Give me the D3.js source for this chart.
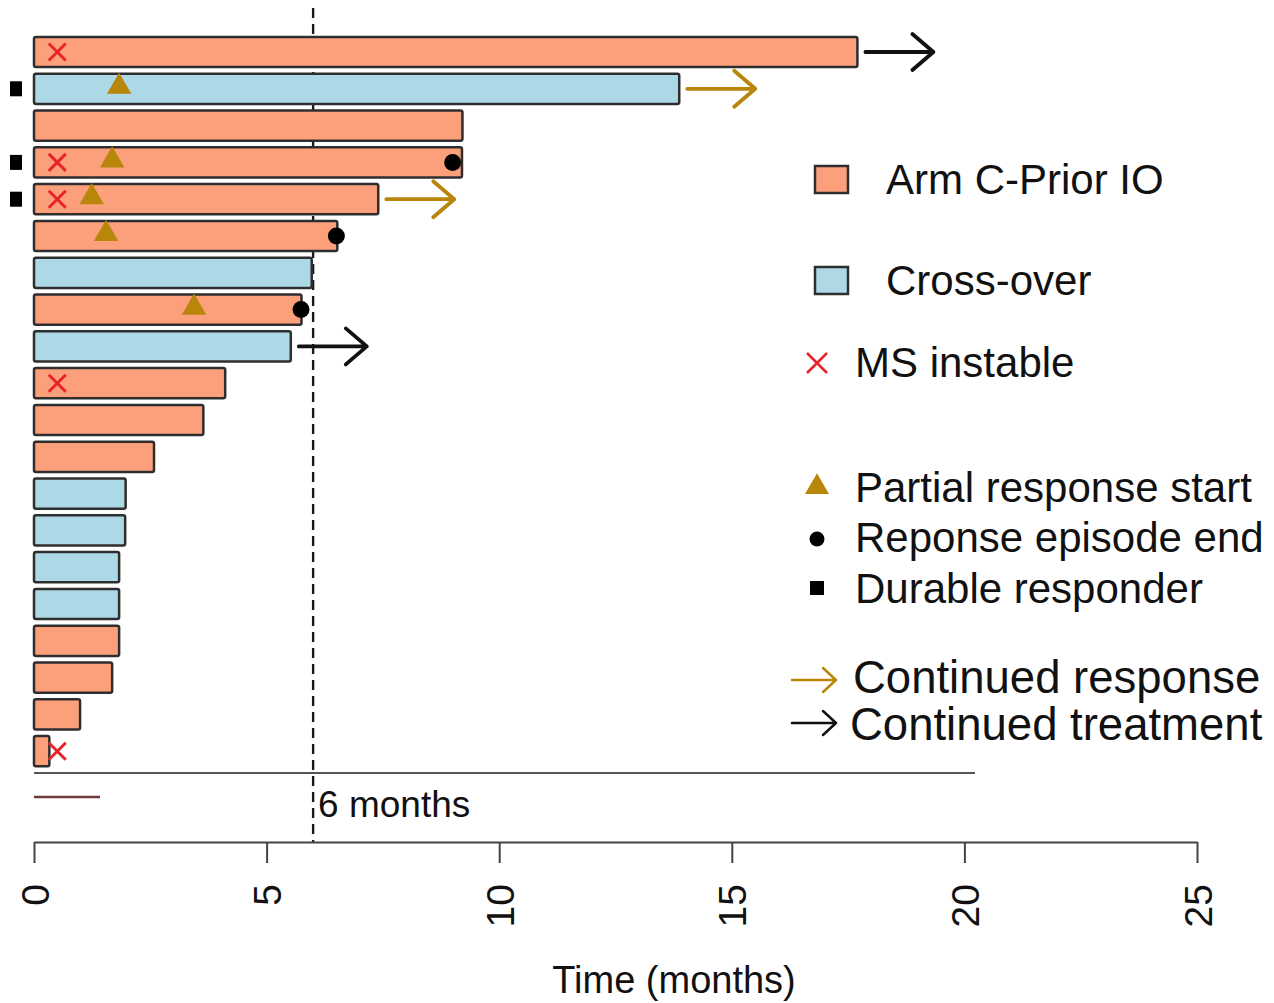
<!DOCTYPE html>
<html>
<head>
<meta charset="utf-8">
<script src="https://cdn.jsdelivr.net/npm/d3@7"></script>
<style>
  body { margin: 0; background: #fff; }
  svg { display: block; }
  text { font-family: "Liberation Sans", Arial, Helvetica, sans-serif; fill: #111; }
</style>
</head>
<body>
<svg id="chart" width="1274" height="1003"></svg>
<script>
// ---- data: one entry per patient, longest time on treatment first ----
const patients = d3.range(1, 21).map(i => "P" + String(i).padStart(2, "0"));
const arms = ["Arm C-Prior IO", "Cross-over", "Arm C-Prior IO", "Arm C-Prior IO", "Arm C-Prior IO",
              "Arm C-Prior IO", "Cross-over", "Arm C-Prior IO", "Cross-over", "Arm C-Prior IO",
              "Arm C-Prior IO", "Arm C-Prior IO", "Cross-over", "Cross-over", "Cross-over",
              "Cross-over", "Arm C-Prior IO", "Arm C-Prior IO", "Arm C-Prior IO", "Arm C-Prior IO"];
const months = [17.7, 13.87, 9.21, 9.2, 7.4, 6.52, 5.97, 5.75, 5.52, 4.11,
                3.64, 2.58, 1.97, 1.96, 1.83, 1.83, 1.83, 1.68, 0.99, 0.33];
const msInstable = [0.5, null, null, 0.5, 0.5, null, null, null, null, 0.5,
                    null, null, null, null, null, null, null, null, null, 0.5];
const partialResponseStart = [null, 1.83, null, 1.68, 1.24, 1.55, null, 3.44, null, null,
                              null, null, null, null, null, null, null, null, null, null];
const responseEnd = [null, null, null, 9.0, null, 6.5, null, 5.74, null, null,
                     null, null, null, null, null, null, null, null, null, null];
const durableResponder = [false, true, false, true, true, false, false, false, false, false,
                          false, false, false, false, false, false, false, false, false, false];
const continued = ["treatment", "response", null, null, "response", null, null, null, "treatment", null,
                   null, null, null, null, null, null, null, null, null, null];
const xTicks = [0, 5, 10, 15, 20, 25];
const cutoffMonths = 6;
const cutoffLabel = "6 months";
const xTitle = "Time (months)";
const legendArms = ["Arm C-Prior IO", "Cross-over"];
const legendMarks = ["MS instable", "Partial response start", "Reponse episode end", "Durable responder"];
const legendArrows = ["Continued response", "Continued treatment"];

// ---- styling ----
const armFill = { "Arm C-Prior IO": "#FCA07C", "Cross-over": "#ADD8E6" };
const arrowColor = { response: "#B8860B", treatment: "#111111" };
const gold = "#B8860B";
const red = "#E8242A";
const outline = "#2e2e2e";

const svg = d3.select("#chart");

const x = d3.scaleLinear().domain([0, 25]).range([34, 1197]);
const y = d3.scaleBand().domain(patients).range([33.6, 769.6])
  .paddingInner(0.18).paddingOuter(0.09);
const bw = y.bandwidth();
const cy = i => y(patients[i]) + bw / 2;

// 6-month reference line (behind the bars)
svg.append("line")
  .attr("x1", x(cutoffMonths)).attr("x2", x(cutoffMonths))
  .attr("y1", 8).attr("y2", 842)
  .attr("stroke", "#1a1a1a").attr("stroke-width", 2.4)
  .attr("stroke-dasharray", "10,6");

// bars
svg.append("g").selectAll("rect")
  .data(patients)
  .join("rect")
  .attr("x", x(0))
  .attr("y", d => y(d))
  .attr("width", (d, i) => x(months[i]) - x(0))
  .attr("height", bw)
  .attr("rx", 2)
  .attr("fill", (d, i) => armFill[arms[i]])
  .attr("stroke", outline)
  .attr("stroke-width", 2.5);

// cross marker
function cross(g, cx, cyy, r, color, w) {
  g.append("path")
    .attr("d", `M${cx - r},${cyy - r}L${cx + r},${cyy + r}M${cx - r},${cyy + r}L${cx + r},${cyy - r}`)
    .attr("stroke", color).attr("stroke-width", w).attr("fill", "none");
}
// open arrow
function arrow(g, x1, x2, yy, color, head, spread, w) {
  g.append("path")
    .attr("d", `M${x1},${yy}L${x2},${yy}M${x2 - head},${yy - spread}L${x2},${yy}L${x2 - head},${yy + spread}`)
    .attr("stroke", color).attr("stroke-width", w).attr("fill", "none")
    .attr("stroke-linecap", "round").attr("stroke-linejoin", "round");
}

const marks = svg.append("g");
const triSym = d3.symbol().type(d3.symbolTriangle);

patients.forEach((p, i) => {
  const yy = cy(i);
  if (msInstable[i] != null) cross(marks, x(msInstable[i]), yy, 8.5, red, 3);
  if (partialResponseStart[i] != null) {
    marks.append("path").attr("d", triSym.size(260)())
      .attr("transform", `translate(${x(partialResponseStart[i])},${yy - 2})`)
      .attr("fill", gold);
  }
  if (responseEnd[i] != null) {
    marks.append("circle").attr("cx", x(responseEnd[i])).attr("cy", yy).attr("r", 8.5).attr("fill", "#000");
  }
  if (durableResponder[i]) {
    marks.append("rect").attr("x", 10).attr("y", yy - 7.5).attr("width", 12).attr("height", 15).attr("fill", "#000");
  }
  if (continued[i]) {
    const xs = x(months[i]) + 8;
    arrow(marks, xs, xs + 68, yy, arrowColor[continued[i]], 21, 18, 3.8);
  }
});

// stray baseline and short rule under the bars
svg.append("line").attr("x1", 34).attr("x2", 975).attr("y1", 773).attr("y2", 773)
  .attr("stroke", "#555").attr("stroke-width", 2);
svg.append("line").attr("x1", 34).attr("x2", 100).attr("y1", 797).attr("y2", 797)
  .attr("stroke", "#6e3a3a").attr("stroke-width", 2.5);

svg.append("text").attr("x", x(cutoffMonths) + 5).attr("y", 817)
  .attr("font-size", 37).text(cutoffLabel);

// x axis with vertical tick labels
const axis = svg.append("g").attr("transform", "translate(0,842)")
  .call(d3.axisBottom(x).tickValues(xTicks).tickSize(21).tickSizeOuter(0).tickFormat(d3.format("d")));
axis.select(".domain").attr("stroke", "#444").attr("stroke-width", 2);
axis.selectAll(".tick line").attr("stroke", "#444").attr("stroke-width", 2);
axis.selectAll(".tick text")
  .attr("transform", "rotate(-90)")
  .attr("text-anchor", "end")
  .attr("x", -42).attr("y", 0).attr("dy", "0.36em")
  .attr("font-size", 39).attr("fill", "#111")
  .style("font-family", '"Liberation Sans", Arial, sans-serif');

svg.append("text").attr("x", 674).attr("y", 993).attr("text-anchor", "middle")
  .attr("font-size", 38).text(xTitle);

// legend
const lg = svg.append("g");
[[legendArms[0], 180, 194], [legendArms[1], 281, 295]].forEach(([name, my, by]) => {
  lg.append("rect").attr("x", 815).attr("y", my - 14).attr("width", 33).attr("height", 27)
    .attr("fill", armFill[name]).attr("stroke", outline).attr("stroke-width", 2.5);
  lg.append("text").attr("x", 886).attr("y", by).attr("font-size", 42).text(name);
});

cross(lg, 817, 363, 10, red, 2.5);
lg.append("text").attr("x", 855).attr("y", 377).attr("font-size", 42).text(legendMarks[0]);

lg.append("path").attr("d", triSym.size(250)()).attr("transform", "translate(817,487)").attr("fill", gold);
lg.append("text").attr("x", 855).attr("y", 502).attr("font-size", 42).text(legendMarks[1]);

lg.append("circle").attr("cx", 817).attr("cy", 539).attr("r", 7.5).attr("fill", "#000");
lg.append("text").attr("x", 855).attr("y", 552).attr("font-size", 42).text(legendMarks[2]);

lg.append("rect").attr("x", 810).attr("y", 581).attr("width", 14).attr("height", 14).attr("fill", "#000");
lg.append("text").attr("x", 855).attr("y", 603).attr("font-size", 42).text(legendMarks[3]);

arrow(lg, 792, 836, 680, arrowColor.response, 13, 12, 2.5);
lg.append("text").attr("x", 853).attr("y", 693).attr("font-size", 45.5).text(legendArrows[0]);
arrow(lg, 792, 836, 723, arrowColor.treatment, 13, 12, 2.5);
lg.append("text").attr("x", 850).attr("y", 740).attr("font-size", 45.5).text(legendArrows[1]);
</script>
</body>
</html>
